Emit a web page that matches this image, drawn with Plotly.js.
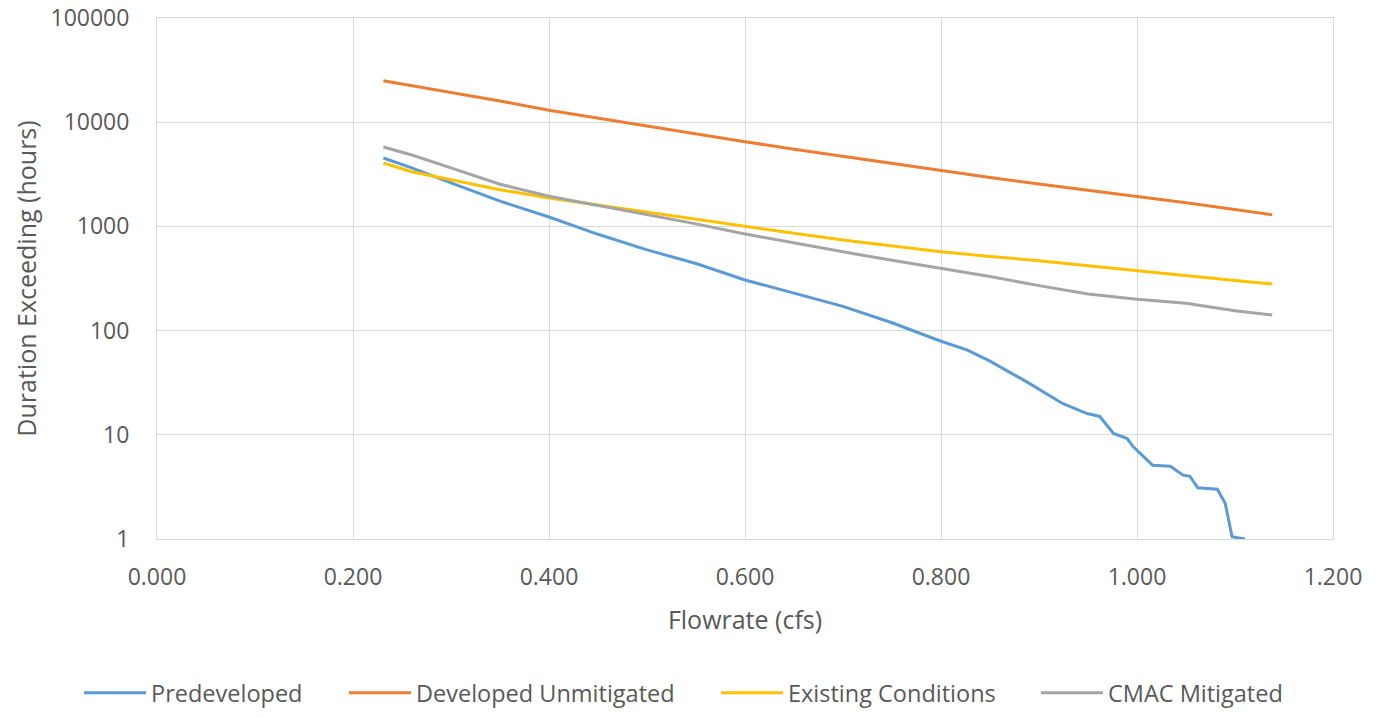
<!DOCTYPE html>
<html>
<head>
<meta charset="utf-8">
<script src="https://cdn.plot.ly/plotly-3.0.1.min.js"></script>
<style>html,body{margin:0;padding:0;background:#fff;}#chart{width:1386px;height:717px;}</style>
</head>
<body>
<div id="chart"></div>
<script>
// Shared flowrate values (cfs) for the three smooth series
const flowCommon = [0.231, 0.26, 0.30, 0.35, 0.40, 0.45, 0.50, 0.55, 0.60, 0.65, 0.70, 0.75, 0.80, 0.85, 0.90, 0.95, 1.00, 1.05, 1.10, 1.138];
const developedUnmitigated = [25000, 22500, 19200, 16000, 13000, 10900, 9200, 7750, 6500, 5500, 4700, 4000, 3450, 2950, 2550, 2230, 1960, 1690, 1450, 1290];
const existingConditions = [4060, 3350, 2800, 2250, 1870, 1600, 1370, 1160, 990, 858, 740, 650, 572, 515, 469, 420, 375, 338, 303, 280];
const cmacMitigated = [5780, 4850, 3650, 2540, 1950, 1590, 1300, 1057, 846, 693, 570, 473, 396, 330, 270, 224, 200, 183, 155, 141];

// Predeveloped has its own flowrate samples (stepped tail)
const flowPre = [0.231, 0.26, 0.30, 0.35, 0.40, 0.45, 0.50, 0.55, 0.60, 0.65, 0.70, 0.75, 0.80, 0.827, 0.85, 0.888, 0.924, 0.949, 0.962, 0.976, 0.990, 0.996, 1.016, 1.034, 1.047, 1.054, 1.062, 1.082, 1.090, 1.097, 1.110];
const predeveloped = [4530, 3640, 2620, 1745, 1230, 840, 596, 440, 306, 229, 171, 119, 79, 65, 51, 32, 20, 16, 15, 10.3, 9.2, 7.7, 5.1, 5, 4.1, 4, 3.1, 3, 2.2, 1.05, 1];

const yTicks = [1, 10, 100, 1000, 10000, 100000];
const yTickText = ['1', '10', '100', '1000', '10000', '100000'];

const FONT = '"Open Sans", sans-serif';
const TXT = '#595959';
const GRID = '#D9D9D9';

const traces = [
  {x: flowPre, y: predeveloped, name: 'Predeveloped', mode: 'lines', line: {color: '#5B9BD5', width: 3}, legend: 'legend'},
  {x: flowCommon, y: developedUnmitigated, name: 'Developed Unmitigated', mode: 'lines', line: {color: '#ED7D31', width: 3}, legend: 'legend2'},
  {x: flowCommon, y: existingConditions, name: 'Existing Conditions', mode: 'lines', line: {color: '#FFC000', width: 3}, legend: 'legend3'},
  {x: flowCommon, y: cmacMitigated, name: 'CMAC Mitigated', mode: 'lines', line: {color: '#A5A5A5', width: 3}, legend: 'legend4'}
];

function leg(x) {
  return {orientation: 'h', x: x, xanchor: 'left', y: -0.2956, yanchor: 'middle',
          bgcolor: 'rgba(0,0,0,0)', font: {family: FONT, size: 23.5, color: TXT}, itemwidth: 62};
}

const layout = {
  width: 1386, height: 717,
  margin: {l: 157, r: 53, t: 18, b: 178, autoexpand: false},
  paper_bgcolor: '#fff', plot_bgcolor: '#fff',
  font: {family: FONT, color: TXT, size: 23},
  showlegend: true,
  legend: leg(-0.0663),
  legend2: leg(0.159),
  legend3: leg(0.4753),
  legend4: leg(0.7474),
  xaxis: {
    range: [0, 1.2], dtick: 0.2, tick0: 0, tickformat: '.3f',
    showgrid: true, gridcolor: GRID, gridwidth: 1,
    showline: true, linecolor: GRID, linewidth: 1, mirror: true,
    zeroline: false, ticks: '', ticklabelstandoff: 17,
    tickfont: {family: FONT, size: 23, color: TXT},
    title: {text: 'Flowrate (cfs)', font: {family: FONT, size: 25, color: TXT}, standoff: 20}
  },
  yaxis: {
    type: 'log', range: [0, 5], tickvals: yTicks, ticktext: yTickText,
    showgrid: true, gridcolor: GRID, gridwidth: 1,
    showline: true, linecolor: GRID, linewidth: 1, mirror: true,
    zeroline: false, ticks: '', ticklabelstandoff: 22,
    tickfont: {family: FONT, size: 23, color: TXT},
    title: {text: 'Duration Exceeding (hours)', font: {family: FONT, size: 25, color: TXT}, standoff: 6}
  }
};

Plotly.newPlot('chart', traces, layout, {displayModeBar: false, staticPlot: true});
</script>
</body>
</html>
